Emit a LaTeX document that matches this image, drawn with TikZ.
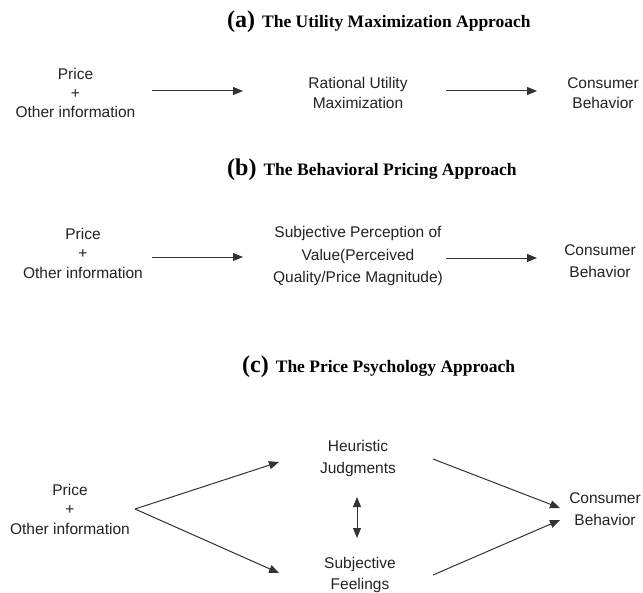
\documentclass[tikz,border=0pt]{standalone}
\usepackage{fontspec}
\setmainfont{Liberation Sans}
\newfontfamily\titlefont{Liberation Serif}
\usetikzlibrary{arrows.meta}
\definecolor{txt}{HTML}{222222}
\definecolor{ln}{HTML}{333333}
\tikzset{
  lbl/.style={inner sep=0pt, align=center, text=txt, font=\fontsize{15.5bp}{#1}\selectfont},
  lbl/.default={20bp},
  ttl/.style={inner sep=0pt, anchor=west, text=black, font=\titlefont\bfseries},
  arr/.style={draw=ln, line width=1bp, -{Triangle[length=10bp,width=8bp]}},
  darr/.style={draw=ln, line width=1bp, {Triangle[length=10bp,width=8bp]}-{Triangle[length=10bp,width=8bp]}}
}
\newcommand{\mytitle}[2]{{\fontsize{24bp}{24bp}\selectfont(#1)}\hspace{7bp}{\fontsize{17.5bp}{17.5bp}\selectfont #2}}
\begin{document}
\begin{tikzpicture}[x=1bp,y=-1bp]
\useasboundingbox (0,0) rectangle (643,593);
% titles
\node[ttl] (ta) at (227,22) {\mytitle{a}{The Utility Maximization Approach}};
\node[ttl] (tb) at (227,170) {\mytitle{b}{The Behavioral Pricing Approach}};
\node[ttl] (tc) at (242,367) {\mytitle{c}{The Price Psychology Approach}};
% row a
\node[lbl=19bp] (pa) at (75.5,93) {Price\\+\\Other information};
\node[lbl=20bp] (ra) at (358,93) {Rational Utility\\Maximization};
\node[lbl=20bp] (ca) at (603,93) {Consumer\\Behavior};
\coordinate (a1s) at (152,91); \coordinate (a1e) at (243,91);
\coordinate (a2s) at (446,91); \coordinate (a2e) at (537,91);
\draw[arr] (a1s) -- (a1e);
\draw[arr] (a2s) -- (a2e);
% row b
\node[lbl=19.5bp] (pb) at (83,253) {Price\\+\\Other information};
\node[lbl=22.5bp] (rb) at (358,256) {Subjective Perception of\\Value(Perceived\\Quality/Price Magnitude)};
\node[lbl=22bp] (cb) at (600,261) {Consumer\\Behavior};
\coordinate (b1s) at (152,257); \coordinate (b1e) at (243,257);
\coordinate (b2s) at (446,258); \coordinate (b2e) at (537,258);
\draw[arr] (b1s) -- (b1e);
\draw[arr] (b2s) -- (b2e);
% row c
\node[lbl=19.5bp] (pc) at (70,509) {Price\\+\\Other information};
\node[lbl=22bp] (hj) at (358,458) {Heuristic\\Judgments};
\node[lbl=21bp] (sf) at (360,575) {Subjective\\Feelings};
\node[lbl=22bp] (cc) at (605,509) {Consumer\\Behavior};
\coordinate (fan) at (135,509);
\coordinate (hin) at (279,462);
\coordinate (sin) at (279,573);
\coordinate (hout) at (433,459);
\coordinate (sout) at (433,575);
\coordinate (cin1) at (560,508);
\coordinate (cin2) at (560,520);
\coordinate (dtop) at (357,497);
\coordinate (dbot) at (357,538);
\draw[arr] (fan) -- (hin);
\draw[arr] (fan) -- (sin);
\draw[arr] (hout) -- (cin1);
\draw[arr] (sout) -- (cin2);
\draw[darr] (dtop) -- (dbot);
\end{tikzpicture}
\end{document}
